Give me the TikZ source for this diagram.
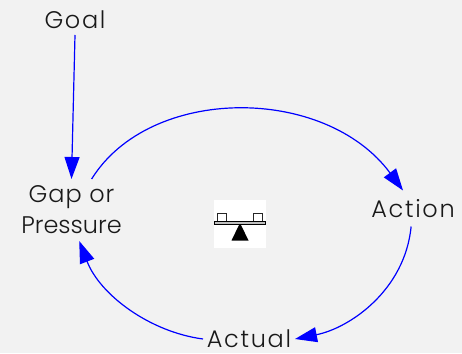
\documentclass[tikz,border=0pt]{standalone}
\usepackage{fontspec}
\setmainfont{Poppins Light}
\newfontfamily\wideA[LetterSpace=7]{Poppins Light}
\newfontfamily\wideB[LetterSpace=4]{Poppins Light}
\usetikzlibrary{arrows.meta}
\definecolor{bgc}{HTML}{F2F2F2}
\tikzset{
 lab/.style={font=\fontsize{24}{31}\selectfont, text=black!90, align=center, inner sep=0pt, outer sep=0pt},
 link/.style={draw=blue, line width=1.2pt, -{Triangle[length=22pt,width=15pt]}},
}
\begin{document}
\begin{tikzpicture}[x=1pt,y=-1pt]
\useasboundingbox[fill=bgc] (0,0) rectangle (462,353);
\node[lab, minimum width=60pt, minimum height=30pt] (goal) at (75,20) {\wideA Goal};
\node[lab, minimum width=100pt, minimum height=62pt] (gap) at (71.5,210) {\wideB Gap or\\Pressure};
\node[lab, minimum width=90pt, minimum height=36pt] (action) at (413,208.5) {\wideA Action};
\node[lab, minimum width=92pt, minimum height=26pt] (actual) at (249,339) {\wideA Actual};
\draw[link] (goal.south) -- (gap.north);
\draw[link] (gap.57) .. controls (150,85) and (325,85) .. (action.119);
\draw[link] (action.264) .. controls (405,290) and (350,328) .. (actual.east);
\draw[link] (actual.west) .. controls (150,332) and (100,295) .. (gap.284);
% loop icon
\fill[white] (214,200) rectangle (266,248);
\draw[black!85, line width=1.2pt, fill=white] (217.5,213.5) rectangle (226.5,222);
\draw[black!85, line width=1.2pt, fill=white] (253.5,213.5) rectangle (262.5,222);
\draw[black, line width=1.3pt, fill=black!25] (214.5,221.5) rectangle (265.5,224.8);
\fill[black] (239,225) -- (241,225) -- (248.5,240.5) -- (231.5,240.5) -- cycle;
\end{tikzpicture}
\end{document}
